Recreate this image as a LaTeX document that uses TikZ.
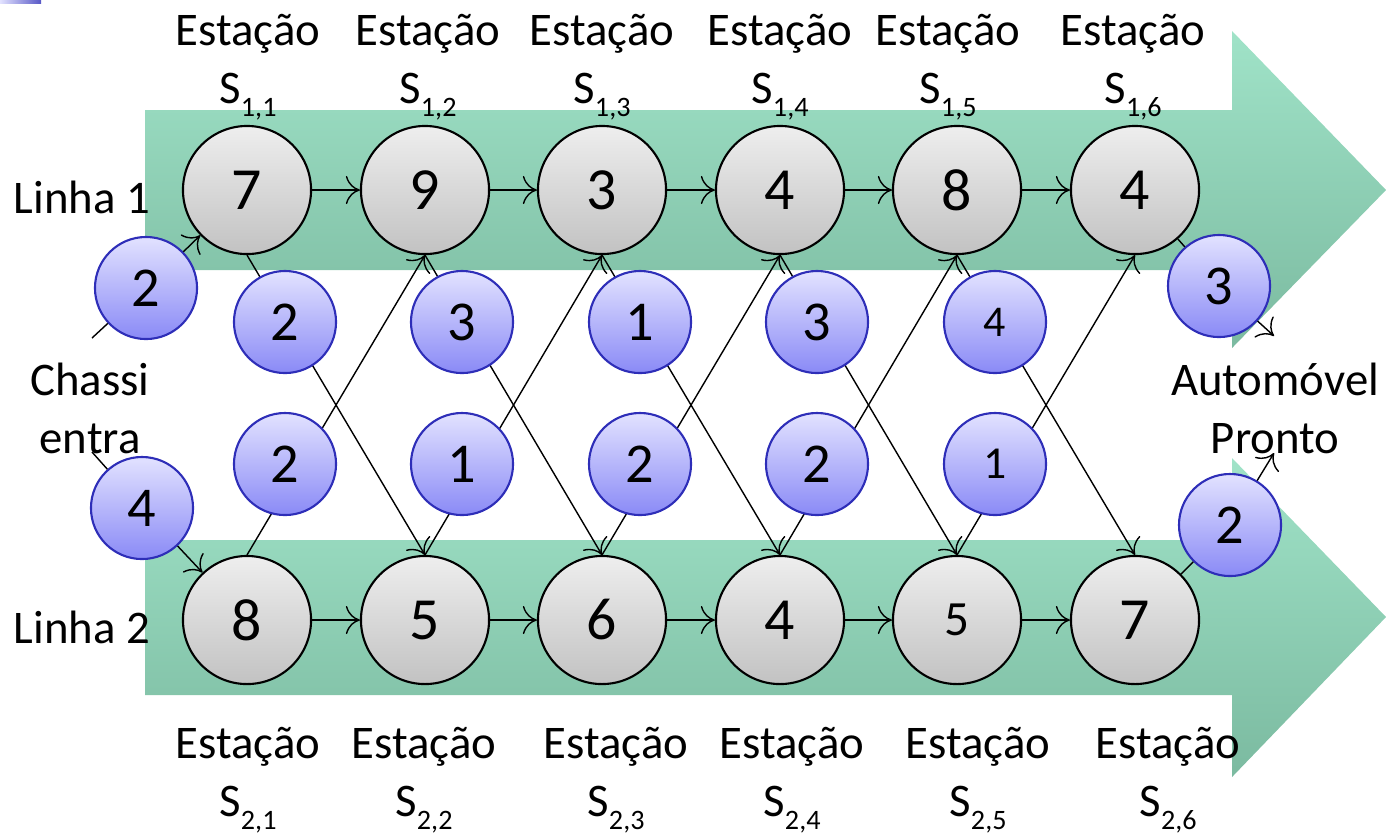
\documentclass[tikz,border=0pt]{standalone}
\usepackage{fontspec}
\setmainfont{Carlito}
\usetikzlibrary{arrows.meta}

% Lowered subscript for station names
\newcommand\stsub[1]{\raisebox{-0.6ex}{\fontsize{8}{8}\selectfont #1}}

\begin{document}
\begin{tikzpicture}[x=0.01cm, y=-0.01cm, >={To[length=4pt,width=8pt]},
    station/.style={circle, draw=black, line width=0.6pt, top color=grayTop, bottom color=grayBottom,
        minimum size=1.28cm, inner sep=0pt},
    cost/.style={circle, draw=costBorder, line width=0.6pt, top color=blueTop, bottom color=blueBottom,
        minimum size=1.02cm, inner sep=0pt, font=\fontsize{16}{16}\selectfont},
    lbl/.style={align=center, font=\fontsize{13.3}{16.5}\selectfont}]
    % Define colours
    \definecolor{greenTop}{HTML}{A0E3C8}
    \definecolor{greenBottom}{HTML}{7BBAA0}
    \definecolor{grayTop}{HTML}{EEEEEE}
    \definecolor{grayBottom}{HTML}{C2C2C2}
    \definecolor{blueTop}{HTML}{E2E2FF}
    \definecolor{blueBottom}{HTML}{8A8AF6}
    \definecolor{costBorder}{HTML}{2E2EB8}

    % Define line heights
    \def\rowOne{190}
    \def\rowTwo{620}

    \useasboundingbox (0,0) rectangle (1386,838);

    % Corner mark
    \shade[left color=blueTop, right color=costBorder!80] (0,0) rectangle (41,3);

    % Draw the two line arrows
    \shade[top color=greenTop, bottom color=greenBottom] (145,110) -- (1232,110) -- (1232,31)
        -- (1386,190) -- (1232,348) -- (1232,270) -- (145,270) -- cycle;
    \shade[top color=greenTop, bottom color=greenBottom] (145,540) -- (1232,540) -- (1232,458)
        -- (1386,617) -- (1232,777) -- (1232,695) -- (145,695) -- cycle;

    % Draw stations
    \foreach \x/\v/\s [count=\j] in {247/7/17, 425/9/17, 602/3/17, 780/4/17, 957/8/17, 1135/4/17}
        \node[station, font=\fontsize{\s}{\s}\selectfont] (s1\j) at (\x,\rowOne) {\v};
    \foreach \x/\v/\s [count=\j] in {247/8/17, 425/5/17, 602/6/17, 780/4/17, 957/5/14, 1135/7/17}
        \node[station, font=\fontsize{\s}{\s}\selectfont] (s2\j) at (\x,\rowTwo) {\v};

    % Connect stations
    \foreach \j/\k in {1/2, 2/3, 3/4, 4/5, 5/6} {
        \draw[->] (s1\j) -- (s1\k);
        \draw[->] (s2\j) -- (s2\k);
        \draw[->] (s1\j.south) -- (s2\k.north);
        \draw[->] (s2\j.north) -- (s1\k.south);
    }

    % Transfer costs
    \foreach \x/\v/\s [count=\j] in {285/2/16, 462/3/16, 640/1/16, 817/3/16, 995/4/12.5}
        \node[cost, font=\fontsize{\s}{\s}\selectfont] (t\j) at (\x,322) {\v};
    \foreach \x/\v/\s [count=\j] in {285/2/16, 462/1/16, 640/2/16, 817/2/16, 995/1/13}
        \node[cost, font=\fontsize{\s}{\s}\selectfont] (b\j) at (\x,464) {\v};

    % Entry and exit costs
    \node[cost] (e1) at (146,288) {2};
    \node[cost] (e2) at (142,508) {4};
    \node[cost] (x1) at (1219,286) {3};
    \node[cost] (x2) at (1230,525) {2};

    \coordinate (in1) at (92,338);
    \coordinate (in2) at (92,452);
    \coordinate (out1) at (1274,336);
    \coordinate (out2) at (1274,453);

    \draw (in1) -- (e1);
    \draw[->] (e1) -- (s11);
    \draw (in2) -- (e2);
    \draw[->] (e2) -- (s21);
    \draw (s16) -- (x1);
    \draw[->] (x1) -- (out1);
    \draw (s26) -- (x2);
    \draw[->] (x2) -- (out2);

    % Station names
    \foreach \x [count=\j] in {248, 428, 602, 780, 948, 1133}
        \node[lbl] (n1\j) at (\x,67) {Estação\\S\stsub{1,\j}};
    \foreach \x [count=\j] in {248, 424, 616, 792, 978, 1168}
        \node[lbl] (n2\j) at (\x,780) {Estação\\S\stsub{2,\j}};

    % Line and end labels
    \node[lbl] (l1) at (82,197) {Linha 1};
    \node[lbl] (l2) at (82,627) {Linha 2};
    \node[lbl] (chassi) at (90,408) {Chassi\\entra};
    \node[lbl] (pronto) at (1275,408) {Automóvel\\Pronto};

\end{tikzpicture}
\end{document}
